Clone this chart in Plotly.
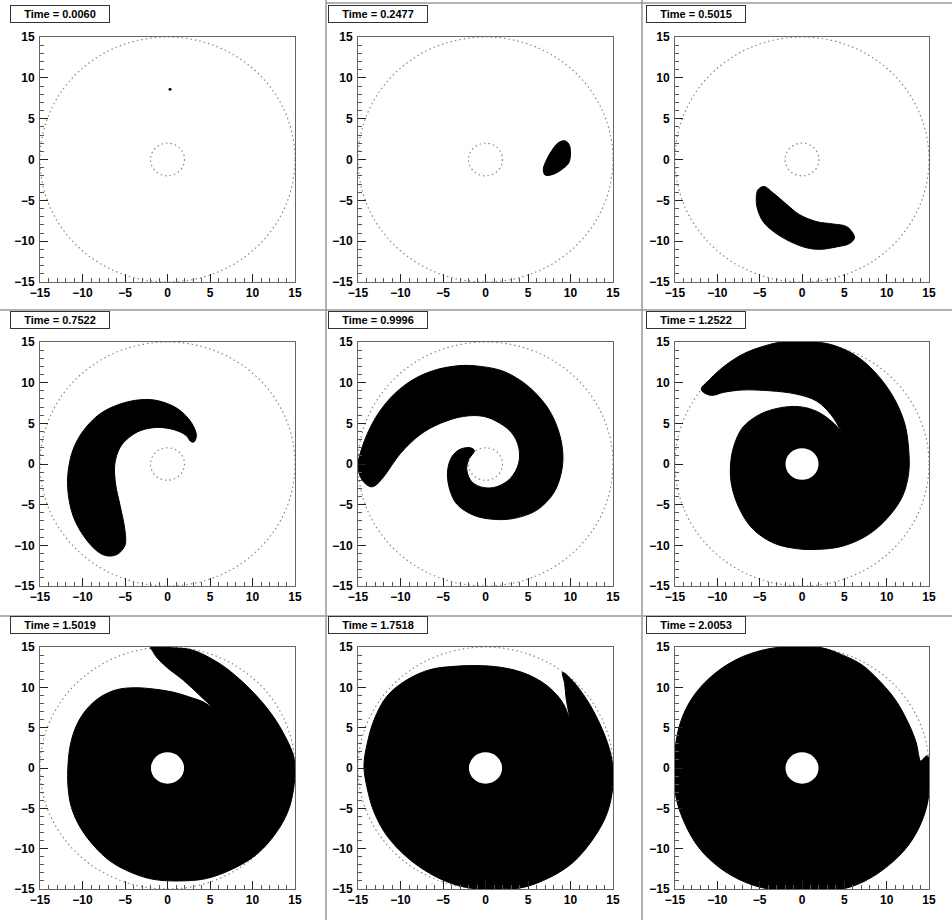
import plotly.graph_objects as go

# ---------------- data ----------------
TIME_LABELS = ["Time = 0.0060", "Time = 0.2477", "Time = 0.5015",
               "Time = 0.7522", "Time = 0.9996", "Time = 1.2522",
               "Time = 1.5019", "Time = 1.7518", "Time = 2.0053"]
TICKS = [-15, -10, -5, 0, 5, 10, 15]
MINOR_TICKS = [-14, -13, -12, -11, -9, -8, -7, -6, -4, -3, -2, -1,
               1, 2, 3, 4, 6, 7, 8, 9, 11, 12, 13, 14]
R_OUTER = 15
R_INNER = 2
R_HOLE = 1.95
HOLE_PANELS = [6, 7, 8, 9]

# panel 1: a single tiny blob
P1_X = [0.3]
P1_Y = [8.6]

# panel 2
P2_X = [9.3, 9.8, 10.0, 9.8, 9.0, 8.0, 7.0, 6.8, 7.2, 7.8, 8.5]
P2_Y = [2.3, 1.9, 1.0, -0.4, -1.2, -1.8, -1.9, -1.2, 0.0, 1.1, 2.0]

# panel 3
P3_X = [-4.5, -3.4, -1.8, -0.3, 1.7, 3.7, 5.25, 6.0, 6.2, 5.6, 4.1, 2.1,
        0.5, -1.4, -3.4, -4.6, -5.3, -5.4, -5.2]
P3_Y = [-3.3, -4.1, -5.5, -6.75, -7.6, -7.9, -8.2, -9.0, -9.6, -10.3, -10.7,
        -11.0, -10.8, -10.05, -8.8, -7.6, -5.9, -4.7, -3.7]

# panel 4
P4_X = [3.1, 3.4, 2.8, 1.2, -1.2, -3.2, -5.5, -7.9, -9.9, -11.1, -11.7, -11.7,
        -11.1, -9.9, -8.3, -7.1, -5.9, -5.0, -5.0, -5.6, -6.1, -6.2, -5.6,
        -4.6, -3.2, -1.2, 0.8, 2.2, 2.7]
P4_Y = [2.7, 3.5, 5.1, 6.8, 7.8, 7.9, 7.4, 6.2, 4.1, 1.8, -1.0, -3.5,
        -6.4, -8.8, -10.7, -11.3, -11.1, -10.0, -8.2, -5.0, -2.5, 0.0, 2.0,
        3.2, 4.1, 4.5, 4.2, 3.5, 2.8]

# panel 5
P5_X = [-13.5, -14.5, -15.0, -14.5, -13.1, -11.2, -8.8, -6.1, -3.0, -0.6,
        2.1, 4.8, 7.2, 8.55, 9.1, 8.9, 8.0, 6.0, 3.3, 0.9, -1.4, -3.4, -4.3,
        -4.45, -3.95, -3.0, -1.8, -1.3, -2.0, -2.2, -1.6, -0.2, 1.3, 2.9,
        3.9, 3.9, 3.1, 1.7, -0.2, -2.6, -5.3, -7.7, -10.0, -12.0, -12.9]
P5_Y = [-2.8, -2.0, -0.3, 2.1, 5.4, 8.1, 10.2, 11.5, 12.1, 12.0,
        11.4, 9.75, 7.1, 4.2, 1.3, -1.15, -3.6, -5.7, -6.7, -6.8, -6.3, -4.9,
        -2.8, -0.74, 0.9, 1.8, 2.0, 1.65, 0.5, -0.74, -2.2, -2.9, -2.8, -1.8,
        0.1, 2.1, 3.8, 5.0, 5.85, 5.85, 5.0, 3.6, 1.3, -1.6, -2.6]

# panel 6
P6_X = [-11.9, -10.9, -8.9, -6.6, -3.8, -2.3, 1.7, 4.0, 6.4, 8.7, 10.7, 12.1,
        12.6, 12.6, 11.9, 10.3, 7.9, 4.8, 1.7, -0.7, -3.4, -5.8, -7.35, -8.3,
        -8.45, -8.05, -7.0, -5.0, -2.65, -0.3, 1.7, 3.2, 4.4, 5.1, 4.6, 3.4,
        1.7, -0.7, -3.8, -7.0, -9.3, -10.5, -11.3]
P6_Y = [9.2, 10.4, 12.25, 13.7, 14.7, 15.0, 15.0, 14.5, 13.3, 11.2, 8.4, 5.1,
        1.8, -1.1, -3.9, -6.4, -8.65, -10.1, -10.5, -10.4, -9.7, -8.0, -5.6,
        -2.7, -0.25, 2.2, 4.5, 6.1, 6.9, 7.05, 6.5, 5.5, 4.3, 3.1, 4.1, 6.1,
        7.75, 8.6, 9.0, 9.1, 8.8, 8.45, 8.6]

# panel 7
P7_X = [-2.06, 0.7, 3.0, 6.2, 8.6, 10.6, 12.5, 13.9, 14.8, 15.0, 14.8, 14.2,
        12.8, 10.5, 7.7, 4.6, 1.5, -1.7, -4.4, -6.8, -8.7, -10.3, -11.3,
        -11.7, -11.7, -11.4, -10.7, -9.5, -7.9, -6.0, -4.0, -1.7, 0.7, 2.6,
        4.2, 5.2, 3.8, 1.9, -0.1, -1.3, -1.85]
P7_Y = [14.9, 14.9, 14.6, 12.9, 10.9, 8.8, 6.3, 3.8, 1.6, -0.2, -2.8, -5.3,
        -8.0, -10.7, -12.5, -13.7, -14.0, -13.8, -12.9, -11.5, -9.6, -7.3,
        -4.9, -2.4, 0.5, 3.0, 5.3, 7.3, 8.8, 9.7, 9.95, 9.8, 9.4, 8.8,
        8.2, 7.55, 9.0, 10.85, 12.5, 13.75, 14.65]

# panel 8
P8_X = [9.06, 10.3, 11.9, 13.4, 14.6, 15.0, 14.9, 14.2, 12.66, 10.3, 7.6,
        4.45, 1.7, -1.0, -3.75, -6.5, -9.2, -11.6, -13.1, -13.9, -14.3, -13.9,
        -13.1, -11.6, -9.2, -6.5, -3.75, -1.0, 1.7, 4.45, 6.8, 8.36, 9.3,
        9.84, 9.5, 9.3]
P8_Y = [11.87, 10.75, 8.5, 5.6, 2.3, -0.16, -3.05, -5.9, -8.8, -11.7, -13.55,
        -14.8, -15.0, -15.0, -14.4, -13.1, -11.1, -8.4, -5.5, -2.6, 0.25, 3.1,
        6.0, 8.9, 10.96, 12.2, 12.6, 12.7, 12.5, 11.8, 10.55, 9.1, 7.7,
        6.4, 8.5, 10.5]

# panel 9
P9_X = [0.0, 2.35, 4.7, 7.06, 9.0, 11.0, 12.55, 13.5, 13.8, 14.0, 14.7, 15.0,
        15.0, 14.9, 14.1, 12.55, 10.2, 7.45, 4.7, 0.0, -3.9, -7.06, -9.8,
        -12.2, -13.9, -14.9, -15.0, -14.9, -14.1, -12.55, -10.2, -7.45, -4.7,
        -2.35]
P9_Y = [15.0, 14.9, 14.05, 12.8, 10.96, 8.5, 5.6, 3.1, 1.5, 0.87, 1.5, 1.3,
        -1.0, -3.9, -6.75, -9.6, -12.1, -14.0, -15.0, -15.0, -15.0, -14.0,
        -12.3, -9.85, -6.75, -3.5, -0.16, 3.1, 6.4, 9.3, 11.8, 13.6, 14.6,
        15.0]

SHAPES_X = [P2_X, P3_X, P4_X, P5_X, P6_X, P7_X, P8_X, P9_X]
SHAPES_Y = [P2_Y, P3_Y, P4_Y, P5_Y, P6_Y, P7_Y, P8_Y, P9_Y]

# ---------------- layout geometry (pixels) ----------------
W, H = 952, 920
COLS = [(40, 295), (358, 613), (675, 929)]
ROWS = [(37, 282), (342, 586), (647, 889)]
LABEL_CX = [60, 378, 696]
LABEL_CY = [14, 320, 625]

fig = go.Figure()
shapes = []
annotations = []

tickfont = dict(family="Liberation Sans", size=12, color="black", weight="bold")

for i in range(9):
    r, c = divmod(i, 3)
    n = i + 1
    sx = "" if n == 1 else str(n)
    L, R = COLS[c]
    T, B = ROWS[r]
    axis_common = dict(
        range=[-15, 15], tickmode="array", tickvals=TICKS,
        ticks="inside", ticklen=8, tickwidth=1, tickcolor="#222",
        minor=dict(tickvals=MINOR_TICKS, ticks="inside", ticklen=4,
                   tickwidth=1, tickcolor="#555", showgrid=False),
        showgrid=False, zeroline=False, showline=True, linecolor="#666",
        linewidth=1, mirror=True, tickfont=tickfont, fixedrange=True,
        automargin=False,
    )
    fig.layout["xaxis" + sx] = dict(axis_common, domain=[L / W, R / W],
                                    anchor="y" + sx, ticklabelstandoff=0)
    fig.layout["yaxis" + sx] = dict(axis_common, domain=[1 - B / H, 1 - T / H],
                                    anchor="x" + sx, ticklabelstandoff=2)

    # dotted reference circles
    for rad in (R_OUTER, R_INNER):
        shapes.append(dict(type="circle", xref="x" + sx, yref="y" + sx,
                           x0=-rad, x1=rad, y0=-rad, y1=rad, layer="below",
                           line=dict(color="#888", width=1.2, dash="1.5px,3px")))

    # black region
    if n == 1:
        fig.add_trace(go.Scatter(x=P1_X, y=P1_Y, mode="markers",
                                 marker=dict(color="black", size=3),
                                 xaxis="x" + sx, yaxis="y" + sx,
                                 hoverinfo="skip", showlegend=False))
    else:
        xs = SHAPES_X[n - 2]
        ys = SHAPES_Y[n - 2]
        fig.add_trace(go.Scatter(x=xs + [xs[0]], y=ys + [ys[0]], mode="lines",
                                 fill="toself", fillcolor="black",
                                 line=dict(color="black", width=1,
                                           shape="spline", smoothing=1.0),
                                 xaxis="x" + sx, yaxis="y" + sx,
                                 hoverinfo="skip", showlegend=False))
    if n in HOLE_PANELS:
        shapes.append(dict(type="circle", xref="x" + sx, yref="y" + sx,
                           x0=-R_HOLE, x1=R_HOLE, y0=-R_HOLE, y1=R_HOLE,
                           layer="above", fillcolor="white",
                           line=dict(color="white", width=0)))

    # time label box
    annotations.append(dict(
        text=TIME_LABELS[i], xref="paper", yref="paper",
        x=LABEL_CX[c] / W, y=1 - LABEL_CY[r] / H,
        xanchor="center", yanchor="middle", showarrow=False,
        width=96, height=14, borderpad=1, borderwidth=1, bordercolor="#333",
        bgcolor="white",
        font=dict(family="Liberation Sans", size=11, color="black", weight="bold"),
    ))

# panel separators
for xp in (326, 642):
    shapes.append(dict(type="line", xref="paper", yref="paper",
                       x0=xp / W, x1=xp / W, y0=0, y1=1,
                       line=dict(color="#999", width=1.5)))
for yp in (310, 616):
    shapes.append(dict(type="line", xref="paper", yref="paper",
                       x0=0, x1=1, y0=1 - yp / H, y1=1 - yp / H,
                       line=dict(color="#999", width=1.5)))
shapes.append(dict(type="line", xref="paper", yref="paper",
                   x0=326 / W, x1=1, y0=1 - 3 / H, y1=1 - 3 / H,
                   line=dict(color="#999", width=1.5)))

fig.update_layout(width=W, height=H, margin=dict(l=0, r=0, t=0, b=0),
                  template="none",
                  paper_bgcolor="white", plot_bgcolor="white",
                  shapes=shapes, annotations=annotations, showlegend=False)

fig.write_html("out.html", config={"displayModeBar": False},
               post_script="document.body.style.margin='0';"
                           "document.body.style.padding='0';"
                           "document.body.style.overflow='hidden';")
